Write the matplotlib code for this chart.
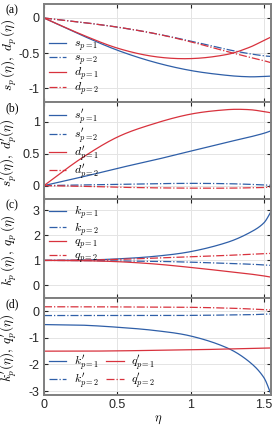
import numpy as np
import matplotlib
matplotlib.use("Agg")
import matplotlib.pyplot as plt

plt.rcParams['mathtext.fontset'] = 'cm'
plt.rcParams['font.family'] = ['Liberation Sans', 'DejaVu Sans']
plt.rcParams['axes.unicode_minus'] = False

# sample positions of eta
eta = [0.0, 0.25, 0.5, 0.75, 1.0, 1.25, 1.4, 1.5, 1.55]

# panel (a)
s_p1 = [0.0, -0.24, -0.46, -0.63, -0.75, -0.82, -0.84, -0.835, -0.83]
s_p2 = [0.0, -0.06, -0.13, -0.22, -0.33, -0.45, -0.51, -0.54, -0.55]
d_p1 = [0.0, -0.23, -0.43, -0.55, -0.58, -0.52, -0.42, -0.32, -0.27]
d_p2 = [0.0, -0.06, -0.13, -0.22, -0.34, -0.48, -0.56, -0.61, -0.64]

# panel (b)
sd_p1 = [0.0, 0.13, 0.27, 0.40, 0.54, 0.68, 0.76, 0.82, 0.86]
sd_p2 = [0.0, 0.01, 0.02, 0.03, 0.035, 0.03, 0.02, 0.01, 0.005]
dd_p1 = [0.0, 0.42, 0.76, 0.97, 1.12, 1.19, 1.19, 1.16, 1.14]
dd_p2 = [0.0, -0.01, -0.025, -0.035, -0.04, -0.04, -0.035, -0.03, -0.02]

# panel (c)
k_p1 = [1.0, 1.01, 1.06, 1.16, 1.35, 1.72, 2.1, 2.5, 2.97]
k_p2 = [1.0, 0.995, 0.98, 0.965, 0.93, 0.88, 0.85, 0.82, 0.80]
q_p1 = [1.0, 0.99, 0.95, 0.86, 0.72, 0.56, 0.46, 0.38, 0.33]
q_p2 = [1.0, 1.01, 1.04, 1.09, 1.14, 1.2, 1.24, 1.27, 1.28]

# panel (d)
kd_p1 = [-0.5, -0.52, -0.6, -0.72, -0.93, -1.38, -1.9, -2.5, -3.15]
kd_p2 = [-0.16, -0.16, -0.16, -0.16, -0.155, -0.14, -0.13, -0.11, -0.10]
qd_p1 = [-1.5, -1.5, -1.49, -1.47, -1.45, -1.42, -1.40, -1.39, -1.38]
qd_p2 = [0.17, 0.17, 0.165, 0.16, 0.15, 0.12, 0.09, 0.06, 0.05]

xticks = [0, 0.5, 1, 1.5]
xticklabels = ['0', '0.5', '1', '1.5']

BLUE = '#2f5fa8'
RED = '#d8323d'

fig = plt.figure(figsize=(2.75, 4.36), dpi=100)
W, H = 275.0, 436.0
left, right = 44 / W, 271.3 / W
tops = [4, 102, 199, 298]
bots = [102, 199, 298, 395]

def smooth(x, y):
    xx = np.linspace(x[0], x[-1], 300)
    x = np.asarray(x); y = np.asarray(y)
    n = len(x)
    m = np.zeros(n)
    for i in range(n):
        if i == 0:
            m[i] = (y[1] - y[0]) / (x[1] - x[0])
        elif i == n - 1:
            m[i] = (y[-1] - y[-2]) / (x[-1] - x[-2])
        else:
            m[i] = (y[i + 1] - y[i - 1]) / (x[i + 1] - x[i - 1])
    yy = np.empty_like(xx)
    for j, t in enumerate(xx):
        i = min(np.searchsorted(x, t, side='right') - 1, n - 2)
        h = x[i + 1] - x[i]
        u = (t - x[i]) / h
        h00 = 2*u**3 - 3*u**2 + 1
        h10 = u**3 - 2*u**2 + u
        h01 = -2*u**3 + 3*u**2
        h11 = u**3 - u**2
        yy[j] = h00*y[i] + h10*h*m[i] + h01*y[i+1] + h11*h*m[i+1]
    return xx, yy

panels = [
    (r'$s_p\,(\eta),\ d_p\,(\eta)$', (-1.2, 0.2), [0, -0.5, -1], ['0', '-0.5', '-1'],
     [(s_p1, BLUE, '-', r'$s_{p=1}$'), (s_p2, BLUE, '-.', r'$s_{p=2}$'),
      (d_p1, RED, '-', r'$d_{p=1}$'), (d_p2, RED, '-.', r'$d_{p=2}$')],
     'lower left', 1, '(a)'),
    (r"$s_p'(\eta),\ d_p'(\eta)$", (-0.21, 1.31), [0, 0.5, 1], ['0', '0.5', '1'],
     [(sd_p1, BLUE, '-', r"$s_{p=1}'$"), (sd_p2, BLUE, '-.', r"$s_{p=2}'$"),
      (dd_p1, RED, '-', r"$d_{p=1}'$"), (dd_p2, RED, '-.', r"$d_{p=2}'$")],
     'upper left', 1, '(b)'),
    (r'$k_p\,(\eta),\ q_p\,(\eta)$', (-0.5, 3.45), [0, 1, 2, 3], ['0', '1', '2', '3'],
     [(k_p1, BLUE, '-', r'$k_{p=1}$'), (k_p2, BLUE, '-.', r'$k_{p=2}$'),
      (q_p1, RED, '-', r'$q_{p=1}$'), (q_p2, RED, '-.', r'$q_{p=2}$')],
     'upper left', 1, '(c)'),
    (r"$k_p'(\eta),\ q_p'(\eta)$", (-3.15, 0.5), [0, -1, -2, -3], ['0', '-1', '-2', '-3'],
     [(kd_p1, BLUE, '-', r"$k_{p=1}'$"), (kd_p2, BLUE, '-.', r"$k_{p=2}'$"),
      (qd_p1, RED, '-', r"$q_{p=1}'$"), (qd_p2, RED, '-.', r"$q_{p=2}'$")],
     'lower left', 2, '(d)'),
]

for idx, (ylab, ylim, yt, ytl, series, loc, ncol, tag) in enumerate(panels):
    t, b = tops[idx], bots[idx]
    ax = fig.add_axes([left, 1 - b / H, right - left, (b - t) / H])
    for ys, c, ls, lab in series:
        xx, yy = smooth(eta, ys)
        ax.plot(xx, yy, color=c, ls=ls, lw=0.9, label=lab)
    ax.set_xlim(0, 1.55)
    ax.set_ylim(*ylim)
    ax.set_yticks(yt)
    ax.set_yticklabels(ytl)
    ax.set_xticks(xticks)
    if idx == 3:
        ax.set_xticklabels(xticklabels)
        ax.set_xlabel(r'$\eta$', fontsize=9, labelpad=2)
    else:
        ax.set_xticklabels([])
    ax.grid(True, color='#e4e4e4', lw=0.7)
    ax.set_axisbelow(True)
    ax.tick_params(direction='in', top=True, right=True, length=3, width=0.8,
                   labelsize=9, colors='#262626', pad=3)
    for sp in ax.spines.values():
        sp.set_color('#7f7f7f')
        sp.set_linewidth(1.4)
    ax.set_ylabel(ylab, fontsize=9.5, labelpad=1)
    ax.yaxis.set_label_coords(-0.11, 0.48)
    leg = ax.legend(loc=loc, ncol=ncol, frameon=False, fontsize=8.5,
                    handlelength=1.5, handletextpad=0.6, labelspacing=-0.12,
                    columnspacing=0.6, borderaxespad=0.1, borderpad=0.3)
    fig.text(12 / W, 1 - (t + 6.5) / H, tag, fontsize=8.5, family='Liberation Serif',
             ha='center', va='center')

fig.savefig('out.png', dpi=100)
